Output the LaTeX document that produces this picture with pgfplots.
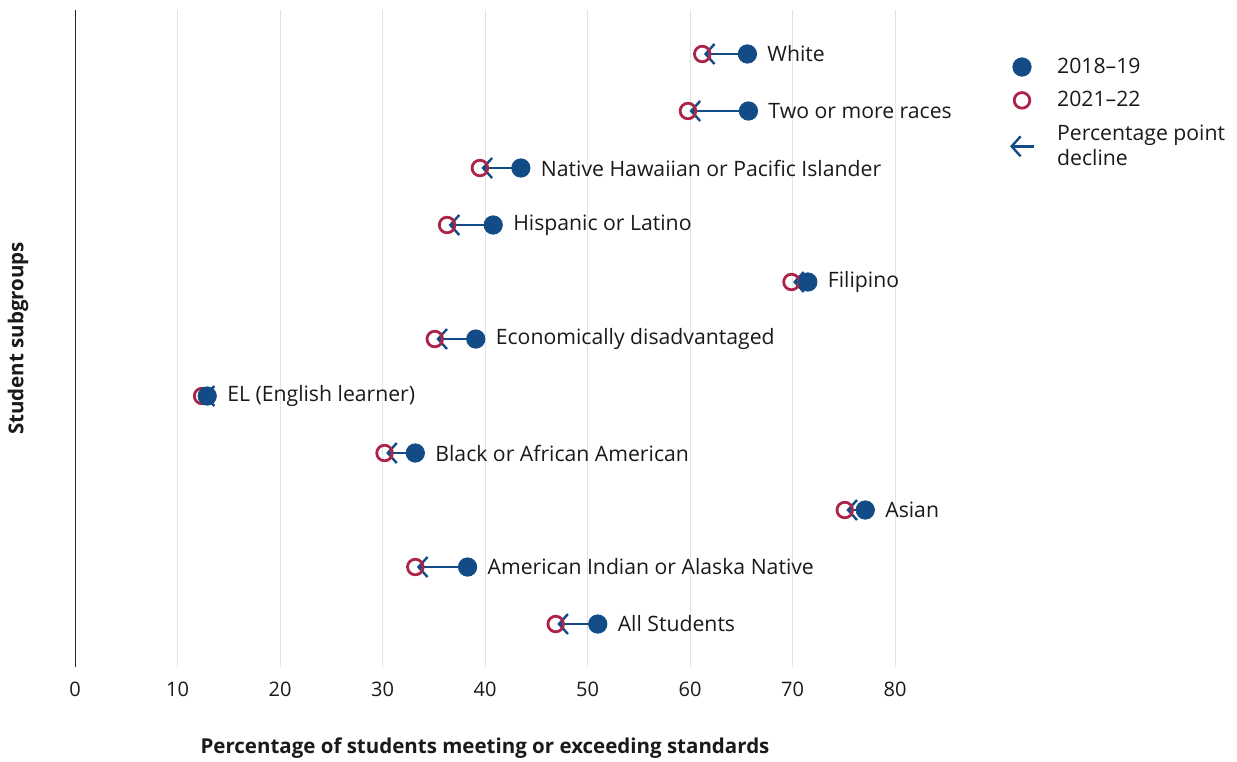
\documentclass[border=0pt]{standalone}
\usepackage{fontspec}
\setmainfont{Open Sans}
\usepackage{pgfplots}
\pgfplotsset{compat=1.18}
\usepackage{pgfplotstable}
\usetikzlibrary{arrows.meta}
\definecolor{cblue}{HTML}{134B87}
\definecolor{cred}{HTML}{AD2449}
\definecolor{ctext}{HTML}{1A1A1A}

\pgfplotstableread[col sep=comma]{
y,a,b,label
10,65.6,61.2,White
9,65.7,59.8,Two or more races
8,43.5,39.5,Native Hawaiian or Pacific Islander
7,40.8,36.3,Hispanic or Latino
6,71.5,69.9,Filipino
5,39.1,35.1,Economically disadvantaged
4,12.9,12.4,EL (English learner)
3,33.2,30.2,Black or African American
2,77.1,75.1,Asian
1,38.3,33.2,American Indian or Alaska Native
0,51.0,46.9,All Students
}\data

\begin{document}
\begin{tikzpicture}
\useasboundingbox (0,0) rectangle (618.5pt,380.5pt);
\begin{axis}[
  at={(37.5pt,47pt)}, anchor=south west,
  scale only axis, width=410pt, height=328.5pt,
  xmin=0, xmax=80, ymin=-0.754, ymax=10.772,
  axis line style={draw=none},
  xtick={10,20,...,80},
  extra x ticks={0},
  extra x tick style={grid style={black!85, line width=0.5pt}},
  xmajorgrids,
  grid style={black!11, line width=0.5pt},
  major tick length=0pt,
  ytick=\empty,
  clip=false,
  /pgf/number format/assume math mode=true,
  tick label style={font=\fontsize{10}{12}\selectfont, text=ctext},
  xticklabel style={yshift=-4pt},
  xlabel={Percentage of students meeting or exceeding standards},
  ylabel={Student subgroups},
  every axis x label/.style={at={(axis description cs:0.5,0)}, yshift=-40.5pt, anchor=center, font=\bfseries\fontsize{10.25}{12}\selectfont, text=ctext},
  every axis y label/.style={at={(axis description cs:0,0.5)}, xshift=-28.5pt, rotate=90, anchor=center, font=\bfseries\fontsize{10.25}{12}\selectfont, text=ctext},
  legend style={draw=none, fill=none, at={(rel axis cs:1.131,0.94)}, anchor=north west,
    font=\fontsize{10.6}{12.5}\selectfont, text=ctext, cells={align=left}, row sep=3.5pt,
    nodes={inner xsep=11pt}},
  legend cell align=left,
]
\addplot[only marks, mark=o, mark size=3.9pt, cred, mark options={line width=1.4pt}, forget plot]
  table[x=b, y=y] {\data};
\addplot[cblue, line width=1.2pt, -{Straight Barb[length=4.5pt,width=10pt]}, shorten >=0.8pt,
  quiver={u={\thisrow{b}-\thisrow{a}}, v=0}, forget plot]
  table[x=a, y=y] {\data};
\addplot[only marks, mark=*, mark size=4.6pt, cblue,
  nodes near coords, point meta=explicit symbolic,
  every node near coord/.append style={anchor=west, xshift=6.5pt, text=ctext, font=\fontsize{10.6}{12}\selectfont},
  forget plot]
  table[x=a, y=y, meta=label] {\data};

\addlegendimage{only marks, mark=*, mark size=4.6pt, cblue}
\addlegendentry{2018–19}
\addlegendimage{only marks, mark=o, mark size=3.9pt, cred, mark options={line width=1.4pt}}
\addlegendentry{2021–22}
\addlegendimage{legend image code/.code={\draw[cblue, line width=1.2pt, -{Straight Barb[length=4.5pt,width=10pt]}] (0.3cm+6pt,0cm) -- (0.3cm-6pt,0cm);}}
\addlegendentry{Percentage point\\decline}
\end{axis}
\end{tikzpicture}
\end{document}
